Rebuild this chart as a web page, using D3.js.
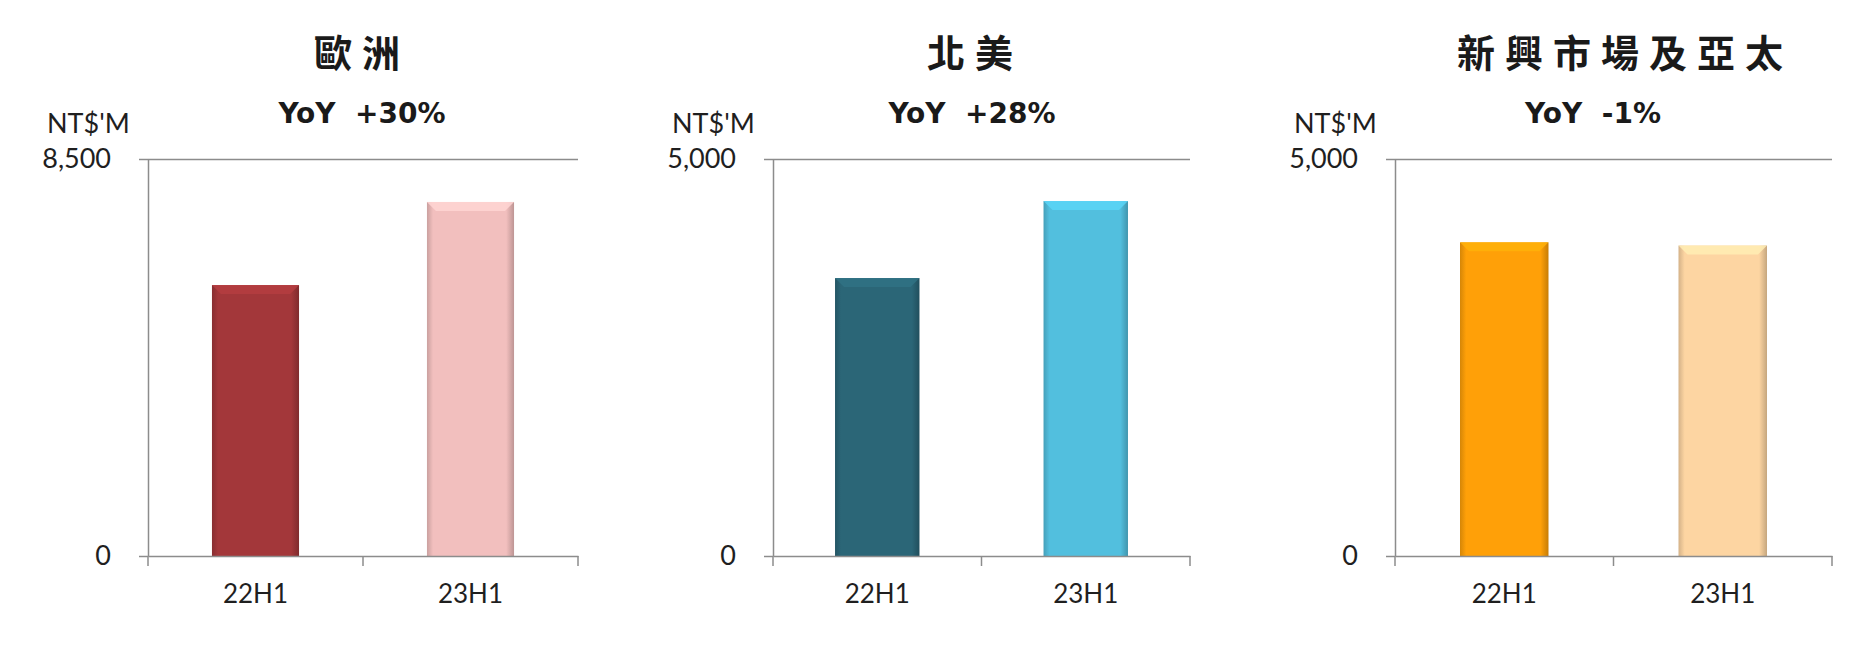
<!DOCTYPE html>
<html>
<head>
<meta charset="utf-8">
<script src="https://cdn.jsdelivr.net/npm/d3@7"></script>
<style>
  html, body { margin: 0; padding: 0; background: #fff; }
  .axis text { font-family: Lato, "Liberation Sans", Arial, sans-serif; fill: #1f1f1f; }
  .axis path, .axis line { stroke: #8c8c8c; stroke-width: 1.5; }
</style>
</head>
<body>
<div id="chart"></div>
<script>
// half-year revenue by region, NT$ millions
const categories = ['22H1', '23H1'];
const regions = ['歐洲', '北美', '新興市場及亞太'];
const yoyLabels = ['YoY  +30%', 'YoY  +28%', 'YoY  -1%'];
const unitLabel = "NT$'M";
const yMax = [8500, 5000, 5000];
const europeValues = [5800, 7580];
const northAmericaValues = [3500, 4470];
const emergingValues = [3950, 3910];
const seriesValues = [europeValues, northAmericaValues, emergingValues];
const barColors = [
  ['#A3373A', '#F2BFBE'],
  ['#2B6677', '#52BFDE'],
  ['#FFA008', '#FDD5A2']
];

// panel layout (pixels)
const panels = [
  { left: 148, right: 578, titleX: 357, yoyX: 362 },
  { left: 773, right: 1190, titleX: 970, yoyX: 972 },
  { left: 1395, right: 1832, titleX: 1620, yoyX: 1593 }
];
const plotTop = 159;
const plotBottom = 556;

const svg = d3.select('#chart').append('svg')
  .attr('width', 1875)
  .attr('height', 655);

svg.append('rect').attr('width', 1875).attr('height', 655).attr('fill', '#fff');
const defs = svg.append('defs');

panels.forEach((p, i) => {
  const width = p.right - p.left;
  const height = plotBottom - plotTop;
  const g = svg.append('g').attr('transform', `translate(${p.left},${plotTop})`);

  const x = d3.scaleBand()
    .domain(categories)
    .range([0, width])
    .paddingInner(0.595)
    .paddingOuter(0.2975);

  const y = d3.scaleLinear()
    .domain([0, yMax[i]])
    .range([height, 0]);

  // top gridline
  g.append('g')
    .attr('class', 'axis')
    .call(d3.axisLeft(y).tickValues([yMax[i]]).tickSize(-width).tickFormat(''))
    .call(a => a.select('.domain').remove());

  // y axis
  g.append('g')
    .attr('class', 'axis')
    .call(d3.axisLeft(y).tickValues([0, yMax[i]]).tickSizeInner(9).tickSizeOuter(0)
      .tickPadding(28).tickFormat(d3.format(',')))
    .call(a => a.selectAll('text').style('font-size', '27px'));

  // bars
  const data = categories.map((c, j) => ({ cat: c, value: seriesValues[i][j], color: barColors[i][j], id: `g${i}${j}` }));

  data.forEach(d => {
    const base = d3.color(d.color);
    const grad = defs.append('linearGradient').attr('id', d.id)
      .attr('x1', '0%').attr('x2', '100%').attr('y1', '0%').attr('y2', '0%');
    grad.append('stop').attr('offset', '0%').attr('stop-color', base.darker(0.5));
    grad.append('stop').attr('offset', '7%').attr('stop-color', base);
    grad.append('stop').attr('offset', '91%').attr('stop-color', base);
    grad.append('stop').attr('offset', '100%').attr('stop-color', base.darker(0.7));
  });

  g.selectAll('.bar')
    .data(data)
    .enter().append('rect')
      .attr('class', 'bar')
      .attr('x', d => x(d.cat))
      .attr('y', d => y(d.value))
      .attr('width', x.bandwidth())
      .attr('height', d => height - y(d.value))
      .attr('fill', d => `url(#${d.id})`);

  // top bevel
  const bev = 9;
  g.selectAll('.bevel')
    .data(data)
    .enter().append('polygon')
      .attr('class', 'bevel')
      .attr('points', d => {
        const x0 = x(d.cat), x1 = x0 + x.bandwidth(), y0 = y(d.value);
        return `${x0},${y0} ${x1},${y0} ${x1 - bev},${y0 + bev} ${x0 + bev},${y0 + bev}`;
      })
      .attr('fill', d => d3.color(d.color).brighter(0.3))
      .attr('opacity', 0.85);

  // x axis with labels
  g.append('g')
    .attr('class', 'axis')
    .attr('transform', `translate(0,${height})`)
    .call(d3.axisBottom(x).tickSize(0).tickPadding(29))
    .call(a => a.selectAll('text').style('font-size', '26px'));

  // category boundary ticks
  const step = x.step();
  g.selectAll('.btick')
    .data([0, step, width])
    .enter().append('line')
      .attr('class', 'btick')
      .attr('x1', d => d).attr('x2', d => d)
      .attr('y1', height).attr('y2', height + 10)
      .attr('stroke', '#8c8c8c')
      .attr('stroke-width', 1.5);

  // unit label
  svg.append('text')
    .attr('x', p.left - 101)
    .attr('y', 133)
    .style('font-family', 'Lato, "Liberation Sans", Arial, sans-serif')
    .style('font-size', '27px')
    .attr('fill', '#1f1f1f')
    .text(unitLabel);

  // region title
  svg.append('text')
    .attr('x', p.titleX + 5)
    .attr('y', 67)
    .attr('text-anchor', 'middle')
    .style('font-family', '"Noto Sans CJK TC", "Noto Sans CJK SC", sans-serif')
    .style('font-weight', 700)
    .style('font-size', '38px')
    .style('letter-spacing', '10px')
    .attr('fill', '#1a1a1a')
    .text(regions[i]);

  // YoY label
  svg.append('text')
    .attr('x', p.yoyX)
    .attr('y', 123)
    .attr('text-anchor', 'middle')
    .style('font-family', '"DejaVu Sans", Verdana, sans-serif')
    .style('font-weight', 700)
    .style('font-size', '28px')
    .style('white-space', 'pre')
    .attr('fill', '#1a1a1a')
    .text(yoyLabels[i]);
});
</script>
</body>
</html>
